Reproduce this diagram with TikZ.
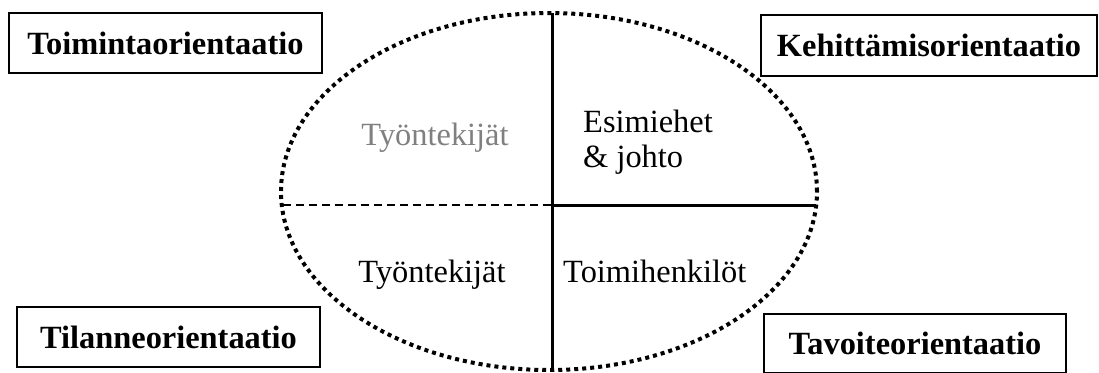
\documentclass[tikz,border=0pt]{standalone}
\usepackage{fontspec}
\setmainfont{Liberation Serif}
\begin{document}
\begin{tikzpicture}[x=1pt,y=-1pt,
  box/.style={draw, line width=1.5pt, font=\bfseries\fontsize{32.4}{35}\selectfont, inner sep=0pt},
  lbl/.style={font=\fontsize{32.4}{35}\selectfont, inner sep=0pt},
  thick line/.style={line width=3pt},
  dotline/.style={line width=4pt, dash pattern=on 4pt off 4pt},
  dashline/.style={line width=1.5pt, dash pattern=on 8pt off 5pt}]
\useasboundingbox (0,0) rectangle (1099,372);
% ellipse
\draw[dotline] (549,191.5) ellipse [x radius=268pt, y radius=178.5pt];
% coordinates
\coordinate (vt) at (552,13);
\coordinate (vb) at (552,370);
\coordinate (c) at (552,205);
\coordinate (hl) at (283,205);
\coordinate (hr) at (816,205);
\draw[dashline] (hl) -- (c);
\draw[thick line] (c) -- (hr);
\draw[thick line] (vt) -- (vb);
% boxes
\node[box, minimum width=313pt, minimum height=60pt] (toim) at (165.5,43) {Toimintaorientaatio};
\node[box, minimum width=336pt, minimum height=61pt] (keh) at (929,45.5) {Kehittämisorientaatio};
\node[box, minimum width=303pt, minimum height=60pt] (til) at (168.5,337) {Tilanneorientaatio};
\node[box, minimum width=302pt, minimum height=59pt] (tav) at (915,343.5) {Tavoiteorientaatio};
% labels
\node[lbl, text=black!50, anchor=base] (tyo1) at (435,145) {Työntekijät};
\node[lbl, anchor=north west, align=left] (esi) at (583,110) {Esimiehet\\\& johto};
\node[lbl, anchor=base] (tyo2) at (432,282) {Työntekijät};
\node[lbl, anchor=base west] (toh) at (563,282) {Toimihenkilöt};
\end{tikzpicture}
\end{document}
